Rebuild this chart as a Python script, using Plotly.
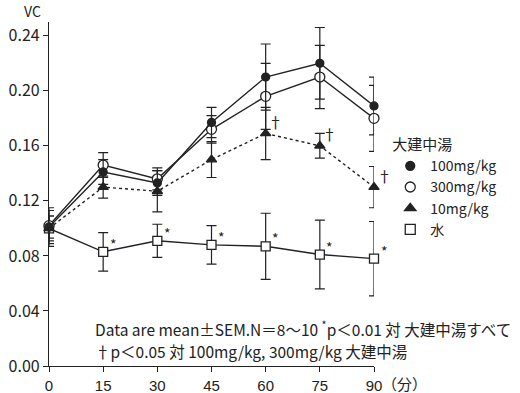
import plotly.graph_objects as go

# Time points (minutes)
minutes = [0, 15, 30, 45, 60, 75, 90]

# VC means and SEM for each group
vc_100 = [0.101, 0.141, 0.133, 0.177, 0.210, 0.220, 0.189]
sem_100 = [0.008, 0.009, 0.009, 0.011, 0.024, 0.026, 0.021]

vc_300 = [0.102, 0.146, 0.136, 0.172, 0.196, 0.210, 0.180]
sem_300 = [0.013, 0.009, 0.008, 0.010, 0.024, 0.023, 0.024]

vc_10 = [0.100, 0.130, 0.127, 0.150, 0.169, 0.160, 0.130]
sem_10 = [0.009, 0.008, 0.015, 0.013, 0.019, 0.009, 0.015]

vc_water = [0.100, 0.083, 0.091, 0.088, 0.087, 0.081, 0.078]
sem_water = [0.013, 0.014, 0.012, 0.014, 0.024, 0.025, 0.027]

# Significance marks
star_minutes = [15, 30, 45, 60, 75, 90]
dagger_minutes = [60, 75, 90]

y_ticks = [0.00, 0.04, 0.08, 0.12, 0.16, 0.20, 0.24]
y_tick_text = ["0.00", "0.04", "0.08", "0.12", "0.16", "0.20", "0.24"]

legend_title = "大建中湯"
names = ["100mg/kg", "300mg/kg", "10mg/kg", "水"]

INK = "#222222"
FONT = "Noto Sans CJK JP"
NUM_FONT = "Liberation Sans"

fig = go.Figure()


def err(arr):
    return dict(type="data", array=arr, visible=True, color=INK,
                thickness=1.2, width=5)


# (values, sem, symbol, size, fill, dash)
series = [
    (vc_water, sem_water, "square", 9, "white", "solid"),
    (vc_10, sem_10, "triangle-up", 9, INK, "dot"),
    (vc_300, sem_300, "circle", 10, "white", "solid"),
    (vc_100, sem_100, "circle", 8, INK, "solid"),
]
for vals, sem, sym, size, fill, dash in series:
    fig.add_trace(go.Scatter(
        x=minutes, y=vals, mode="lines+markers",
        line=dict(color=INK, width=1.4, dash=dash),
        marker=dict(symbol=sym, size=size, color=fill,
                    line=dict(color=INK, width=1.3)),
        error_y=err(sem), showlegend=False, cliponaxis=False,
    ))

# Legend entries (markers only)
legend_syms = [("circle", 9, INK), ("circle", 10, "white"),
               ("triangle-up", 10, INK), ("square", 10, "white")]
for i, (name, (sym, size, fill)) in enumerate(zip(names, legend_syms)):
    fig.add_trace(go.Scatter(
        x=[None], y=[None], mode="markers", name=name,
        marker=dict(symbol=sym, size=size, color=fill,
                    line=dict(color=INK, width=1.3)),
        legendgroup=f"g{i}",
    ))

annotations = []
for m in star_minutes:
    i = minutes.index(m)
    annotations.append(dict(x=m, y=vc_water[i], text="*", showarrow=False,
                            xref="x", yref="y", xshift=10, yshift=8,
                            font=dict(size=14, color=INK, family=FONT)))
for m in dagger_minutes:
    i = minutes.index(m)
    annotations.append(dict(x=m, y=vc_10[i], text="†", showarrow=False,
                            xref="x", yref="y", xshift=10, yshift=12,
                            font=dict(size=15, color=INK, family=FONT)))

annotations += [
    dict(x=0, y=1.032, xref="paper", yref="paper", text="VC", showarrow=False,
         xanchor="center", yanchor="middle", xshift=-17,
         font=dict(size=14, color=INK, family=FONT)),
    dict(x=1.0, y=0, xref="paper", yref="paper", text="（分）", showarrow=False,
         xanchor="left", yanchor="middle", xshift=6, yshift=-17,
         font=dict(size=15, color=INK, family=FONT)),
    dict(x=0.135, y=0.111, xref="paper", yref="paper", showarrow=False,
         xanchor="left", yanchor="middle", align="left",
         text="Data are mean±SEM.N＝8〜10 <sup>*</sup>p＜0.01 対 大建中湯すべて",
         font=dict(size=15.5, color=INK, family=FONT)),
    dict(x=0.135, y=0.045, xref="paper", yref="paper", showarrow=False,
         xanchor="left", yanchor="middle", align="left",
         text="†p＜0.05 対 100mg/kg, 300mg/kg 大建中湯",
         font=dict(size=15.5, color=INK, family=FONT)),
]

fig.update_layout(
    width=520, height=393,
    margin=dict(l=49, r=146, t=22, b=27),
    paper_bgcolor="white", plot_bgcolor="white",
    font=dict(family=FONT, color=INK, size=14),
    annotations=annotations,
    legend=dict(
        title=dict(text=legend_title, font=dict(size=15, family=FONT)),
        x=1.05, y=0.684, xanchor="left", yanchor="top",
        font=dict(size=14, family=FONT), tracegroupgap=0,
        bgcolor="rgba(0,0,0,0)", itemwidth=30,
    ),
    xaxis=dict(range=[0, 90], tickvals=minutes, ticktext=[str(m) for m in minutes],
               showgrid=False, zeroline=False, showline=True, linecolor=INK,
               linewidth=1.2, ticks="outside", ticklen=5, tickcolor=INK,
               tickfont=dict(size=15, family=NUM_FONT), ticklabelstandoff=1,
               automargin=False),
    yaxis=dict(range=[0, 0.25], tickvals=y_ticks, ticktext=y_tick_text,
               showgrid=False, zeroline=False, showline=True, linecolor=INK,
               linewidth=1.2, ticks="outside", ticklen=5, tickcolor=INK,
               tickfont=dict(size=16), automargin=False),
)

fig.write_html("out.html")
